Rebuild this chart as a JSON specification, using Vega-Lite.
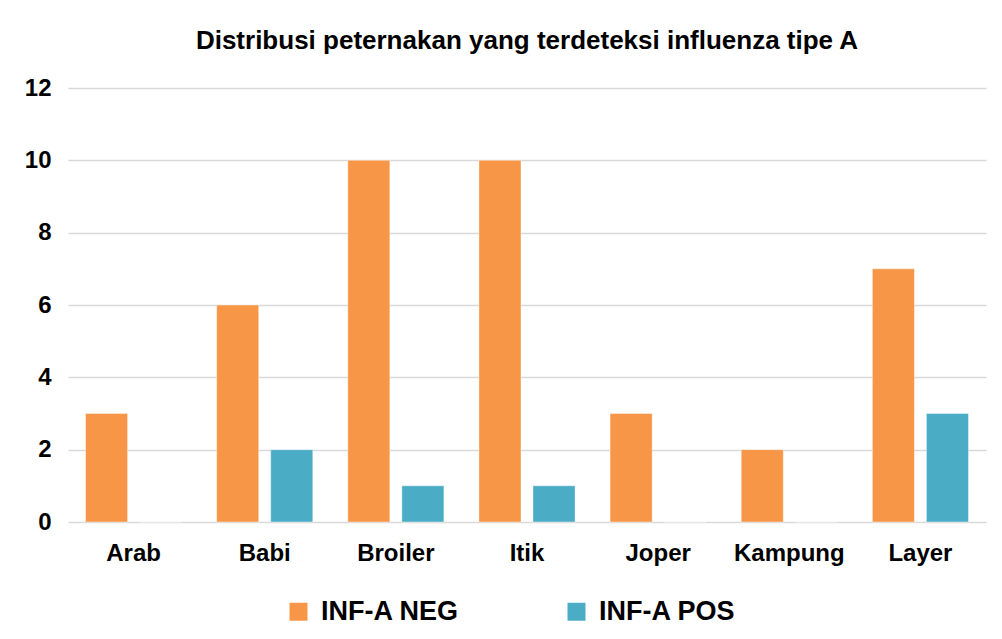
{
  "$schema": "https://vega.github.io/schema/vega-lite/v6.json",
  "autosize": "none",
  "width": 918,
  "height": 434,
  "padding": {"left": 68, "top": 88, "right": 16, "bottom": 117},
  "background": "white",
  "title": {
    "text": "Distribusi peternakan yang terdeteksi influenza tipe A",
    "font": "Liberation Sans",
    "fontSize": 26,
    "fontWeight": "bold",
    "color": "#000000",
    "anchor": "middle",
    "offset": 22
  },
  "data": {
    "values": [
      {"kategori": "Arab", "seri": "INF-A NEG", "jumlah": 3},
      {"kategori": "Arab", "seri": "INF-A POS", "jumlah": 0},
      {"kategori": "Babi", "seri": "INF-A NEG", "jumlah": 6},
      {"kategori": "Babi", "seri": "INF-A POS", "jumlah": 2},
      {"kategori": "Broiler", "seri": "INF-A NEG", "jumlah": 10},
      {"kategori": "Broiler", "seri": "INF-A POS", "jumlah": 1},
      {"kategori": "Itik", "seri": "INF-A NEG", "jumlah": 10},
      {"kategori": "Itik", "seri": "INF-A POS", "jumlah": 1},
      {"kategori": "Joper", "seri": "INF-A NEG", "jumlah": 3},
      {"kategori": "Joper", "seri": "INF-A POS", "jumlah": 0},
      {"kategori": "Kampung", "seri": "INF-A NEG", "jumlah": 2},
      {"kategori": "Kampung", "seri": "INF-A POS", "jumlah": 0},
      {"kategori": "Layer", "seri": "INF-A NEG", "jumlah": 7},
      {"kategori": "Layer", "seri": "INF-A POS", "jumlah": 3}
    ]
  },
  "mark": {"type": "bar", "stroke": "#ffffff", "strokeOpacity": 0.4, "strokeWidth": 1},
  "encoding": {
    "x": {
      "field": "kategori",
      "type": "nominal",
      "sort": null,
      "scale": {"paddingInner": 0, "paddingOuter": 0},
      "axis": {
        "title": null,
        "labelAngle": 0,
        "domain": false,
        "ticks": false,
        "labelPadding": 19,
        "labelFont": "Liberation Sans",
        "labelFontSize": 24,
        "labelFontWeight": "bold",
        "labelColor": "#000000"
      }
    },
    "xOffset": {
      "field": "seri",
      "type": "nominal",
      "scale": {"paddingInner": 0.222, "paddingOuter": 0.324}
    },
    "y": {
      "field": "jumlah",
      "type": "quantitative",
      "scale": {"domain": [0, 12], "nice": false},
      "axis": {
        "title": null,
        "values": [0, 2, 4, 6, 8, 10, 12],
        "domain": false,
        "ticks": false,
        "labelPadding": 17,
        "labelFont": "Liberation Sans",
        "labelFontSize": 24,
        "labelFontWeight": "bold",
        "labelColor": "#000000",
        "gridColor": "#d9d9d9",
        "gridWidth": 1.5
      }
    },
    "color": {
      "field": "seri",
      "type": "nominal",
      "scale": {"domain": ["INF-A NEG", "INF-A POS"], "range": ["#F79646", "#4BACC6"]},
      "legend": {
        "title": null,
        "orient": "none",
        "direction": "horizontal",
        "legendX": 217,
        "legendY": 510,
        "symbolType": "square",
        "symbolSize": 324,
        "symbolStrokeWidth": 0,
        "labelFont": "Liberation Sans",
        "labelFontSize": 27,
        "labelFontWeight": "bold",
        "labelColor": "#000000",
        "labelOffset": 9,
        "columnPadding": 104
      }
    }
  },
  "config": {"view": {"stroke": null}}
}
